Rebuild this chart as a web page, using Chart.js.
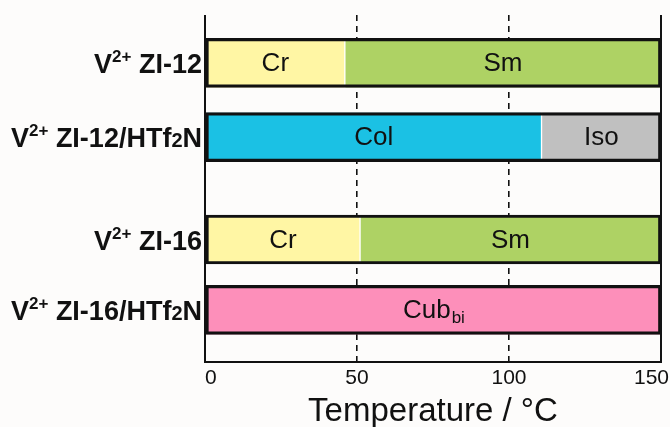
<!DOCTYPE html>
<html>
<head>
<meta charset="utf-8">
<script src="https://cdn.jsdelivr.net/npm/chart.js@4.4.1/dist/chart.umd.min.js"></script>
<style>
  html, body { margin: 0; padding: 0; background: #fdfcfb; }
  #wrap { width: 670px; height: 427px; }
</style>
</head>
<body>
<div id="wrap"><canvas id="phaseChart"></canvas></div>
<script>
// Row labels (^{} = superscript, _{} = smaller on baseline)
const rowLabels = ['V^{2+} ZI-12', 'V^{2+} ZI-12/HTf_{2}N', 'V^{2+} ZI-16', 'V^{2+} ZI-16/HTf_{2}N'];
// Row positions on the (hidden) vertical axis, 0 = top, 10 = bottom
const rowPos = [1.38, 3.52, 6.47, 8.5];

// Phase ranges per row, in °C ([start, end] or null)
const crRanges = [[0, 46], null, [0, 51], null];
const smRanges = [[46, 150], null, [51, 150], null];
const colRanges = [null, [0, 110.7], null, null];
const isoRanges = [null, [110.7, 150], null, null];
const cubRanges = [null, null, null, [0, 150]];

const xTicks = [0, 50, 100, 150];
const xTitle = 'Temperature / °C';

const FONT = '"Liberation Sans", Arial, sans-serif';

function toPoints(ranges) {
  const pts = [];
  ranges.forEach((r, i) => {
    if (r) pts.push({ x: r, y: rowPos[i] });
  });
  return pts;
}

function phaseSet(name, sub, ranges, color) {
  return {
    label: name,
    sub: sub,
    data: toPoints(ranges),
    backgroundColor: color,
    borderColor: '#ffffff',
    borderWidth: { left: 1, right: 1, top: 0, bottom: 0 },
    borderSkipped: false,
    order: 2
  };
}

// Draw "V^{2+} ZI-12" style labels right-aligned
function drawRich(ctx, text, xRight, yBase) {
  const parts = [];
  const re = /(\^\{[^}]*\}|_\{[^}]*\})/g;
  let last = 0, m;
  while ((m = re.exec(text)) !== null) {
    if (m.index > last) parts.push({ t: text.slice(last, m.index), k: 'n' });
    parts.push({ t: m[0].slice(2, -1), k: m[0][0] === '^' ? 'sup' : 'sub' });
    last = re.lastIndex;
  }
  if (last < text.length) parts.push({ t: text.slice(last), k: 'n' });

  const fonts = { n: 'bold 27px ' + FONT, sup: 'bold 17px ' + FONT, sub: 'bold 20px ' + FONT };
  const shift = { n: 0, sup: -11, sub: 0 };
  let total = 0;
  parts.forEach(p => { ctx.font = fonts[p.k]; p.w = ctx.measureText(p.t).width; total += p.w; });
  let x = xRight - total;
  ctx.textAlign = 'left';
  ctx.textBaseline = 'alphabetic';
  parts.forEach(p => {
    ctx.font = fonts[p.k];
    ctx.fillText(p.t, x, yBase + shift[p.k]);
    x += p.w;
  });
}

const decorPlugin = {
  id: 'decor',
  afterDatasetsDraw(chart) {
    const { ctx, chartArea, scales } = chart;
    const xs = scales.x, ys = scales.y;
    ctx.save();
    ctx.fillStyle = '#111';

    // phase labels inside bars
    chart.data.datasets.forEach((ds, di) => {
      if (!ds.label) return;
      const meta = chart.getDatasetMeta(di);
      meta.data.forEach(bar => {
        const { x, base, y } = bar.getProps(['x', 'base', 'y'], true);
        const cx = (x + base) / 2;
        ctx.font = '26px ' + FONT;
        ctx.textBaseline = 'middle';
        if (ds.sub) {
          const w1 = ctx.measureText(ds.label).width;
          ctx.font = '17px ' + FONT;
          const w2 = ctx.measureText(ds.sub).width;
          const start = cx - (w1 + w2) / 2;
          ctx.textAlign = 'left';
          ctx.font = '26px ' + FONT;
          ctx.fillText(ds.label, start, y + 1);
          ctx.font = '17px ' + FONT;
          ctx.fillText(ds.sub, start + w1 + 1, y + 8);
        } else {
          ctx.textAlign = 'center';
          ctx.fillText(ds.label, cx, y + 1);
        }
      });
    });

    // frame: left, right, bottom solid lines
    ctx.strokeStyle = '#111';
    ctx.lineWidth = 2;
    ctx.beginPath();
    ctx.moveTo(xs.getPixelForValue(0), chartArea.top);
    ctx.lineTo(xs.getPixelForValue(0), chartArea.bottom);
    ctx.lineTo(xs.getPixelForValue(150), chartArea.bottom);
    ctx.lineTo(xs.getPixelForValue(150), chartArea.top);
    ctx.stroke();

    // x tick labels
    ctx.font = '21px ' + FONT;
    ctx.textBaseline = 'middle';
    xTicks.forEach((v, i) => {
      const px = xs.getPixelForValue(v);
      if (i === 0) { ctx.textAlign = 'left'; ctx.fillText(String(v), px, chartArea.bottom + 16); }
      else if (i === xTicks.length - 1) { ctx.textAlign = 'right'; ctx.fillText(String(v), px + 8, chartArea.bottom + 16); }
      else { ctx.textAlign = 'center'; ctx.fillText(String(v), px, chartArea.bottom + 16); }
    });

    // x title
    ctx.font = '33px ' + FONT;
    ctx.textAlign = 'center';
    ctx.fillText(xTitle, (chartArea.left + chartArea.right) / 2, chartArea.bottom + 50);

    // row labels
    rowLabels.forEach((lbl, i) => {
      drawRich(ctx, lbl, 202, ys.getPixelForValue(rowPos[i]) + 10);
    });
    ctx.restore();
  }
};

new Chart(document.getElementById('phaseChart'), {
  type: 'bar',
  data: {
    datasets: [
      phaseSet('Cr', null, crRanges, '#fff6a4'),
      phaseSet('Sm', null, smRanges, '#aed264'),
      phaseSet('Col', null, colRanges, '#1bc1e4'),
      phaseSet('Iso', null, isoRanges, '#c0c0c0'),
      phaseSet('Cub', 'bi', cubRanges, '#fd8fba'),
      {
        // black outline around each row
        label: '',
        data: rowPos.map(p => ({ x: [0, 150], y: p })),
        backgroundColor: 'rgba(0,0,0,0)',
        borderColor: '#111',
        borderWidth: 2.5,
        borderSkipped: false,
        order: 1
      }
    ]
  },
  options: {
    indexAxis: 'y',
    responsive: true,
    maintainAspectRatio: false,
    animation: false,
    grouped: false,
    barThickness: 49,
    layout: { padding: { left: 205, right: 9, top: 15, bottom: 65 } },
    plugins: { legend: { display: false }, tooltip: { enabled: false } },
    scales: {
      x: {
        type: 'linear',
        min: 0,
        max: 150,
        ticks: { display: false, stepSize: 50 },
        border: { display: false, dash: [6, 5] },
        grid: {
          drawTicks: false,
          color: ctx => (ctx.tick && (ctx.tick.value === 50 || ctx.tick.value === 100)) ? '#111' : 'rgba(0,0,0,0)',
          lineWidth: 1.6
        }
      },
      y: {
        type: 'linear',
        display: false,
        offset: false,
        reverse: true,
        min: 0,
        max: 10
      }
    }
  },
  plugins: [decorPlugin]
});
</script>
</body>
</html>
